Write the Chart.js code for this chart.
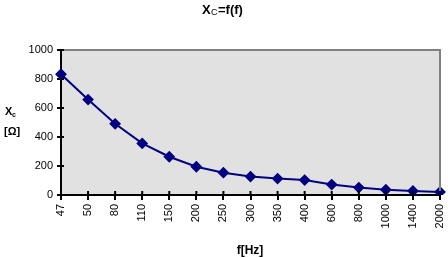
<!DOCTYPE html>
<html>
<head>
<meta charset="utf-8">
<script src="https://cdn.jsdelivr.net/npm/chart.js@4/dist/chart.umd.min.js"></script>
<style>
  html, body { margin: 0; padding: 0; background: #fff; }
  #wrap { width: 448px; height: 258px; }
</style>
</head>
<body>
<div id="wrap"><canvas id="chart" width="448" height="258"></canvas></div>
<script>
// frequencies (category labels) and measured reactance
const frequencies = ['47', '50', '80', '110', '150', '200', '250', '300', '350', '400', '600', '800', '1000', '1400', '2000'];
const reactance = [833, 658, 491, 356, 264, 195, 154, 127, 113, 103, 72, 51, 36, 28, 21];
const yTicks = [0, 200, 400, 600, 800, 1000];

const FONT = '"Liberation Sans", Arial, sans-serif';

// grey plot area + top/right frame, titles with subscripts
const decor = {
    id: 'decor',
    beforeDraw(chart) {
        const { ctx, chartArea: a } = chart;
        ctx.save();
        ctx.fillStyle = '#e1e1e1';
        ctx.fillRect(a.left, a.top, a.right - a.left, a.bottom - a.top);
        ctx.restore();
    },
    afterDraw(chart) {
        const { ctx, chartArea: a } = chart;
        ctx.save();
        ctx.strokeStyle = '#808080';
        ctx.lineWidth = 2;
        ctx.beginPath();
        ctx.moveTo(a.left, a.top);
        ctx.lineTo(a.right, a.top);
        ctx.lineTo(a.right, a.bottom);
        ctx.stroke();

        ctx.fillStyle = '#000';
        ctx.textBaseline = 'alphabetic';
        // main title
        ctx.font = 'bold 13px ' + FONT;
        ctx.textAlign = 'left';
        ctx.fillText('X', 202, 14);
        ctx.font = '9px ' + FONT;
        ctx.fillText('C', 211, 15);
        ctx.font = 'bold 13px ' + FONT;
        ctx.fillText('=f(f)', 218, 14);

        // y title
        ctx.font = 'bold 11px ' + FONT;
        ctx.fillText('X', 5, 115);
        ctx.font = 'bold 7px ' + FONT;
        ctx.fillText('c', 12, 117);
        ctx.font = 'bold 11px ' + FONT;
        ctx.fillText('[\u03A9]', 4, 135);

        // x title
        ctx.font = 'bold 12px ' + FONT;
        ctx.textAlign = 'center';
        ctx.fillText('f[Hz]', 250, 254);

        // short inner parts of the tick marks
        ctx.strokeStyle = '#000';
        ctx.lineWidth = 2;
        const xs = chart.scales.x, ys = chart.scales.y;
        ctx.beginPath();
        frequencies.forEach((f, i) => {
            const x = xs.getPixelForValue(i);
            ctx.moveTo(x, a.bottom);
            ctx.lineTo(x, a.bottom - 4);
        });
        yTicks.forEach(v => {
            const y = ys.getPixelForValue(v);
            ctx.moveTo(a.left, y);
            ctx.lineTo(a.left + 3, y);
        });
        ctx.stroke();
        ctx.restore();
    }
};

new Chart(document.getElementById('chart'), {
    type: 'line',
    data: {
        labels: frequencies,
        datasets: [{
            data: reactance,
            borderColor: '#000080',
            backgroundColor: '#000080',
            borderWidth: 2,
            pointStyle: 'rectRot',
            pointRadius: 4.5,
            pointHoverRadius: 4.5,
            tension: 0
        }]
    },
    options: {
        responsive: false,
        animation: false,
        events: [],
        layout: { padding: { top: 50, right: 0, left: 0, bottom: 0 } },
        plugins: { legend: { display: false }, tooltip: { enabled: false }, title: { display: false } },
        scales: {
            x: {
                offset: false,
                grid: { drawOnChartArea: false, color: '#000', lineWidth: 2, tickLength: 5 },
                border: { color: '#000', width: 2 },
                ticks: {
                    color: '#000',
                    font: { family: FONT, size: 11 },
                    minRotation: 90, maxRotation: 90,
                    padding: 4,
                    autoSkip: false
                },
                afterFit(scale) { scale.height = 63; scale.paddingRight = 8; }
            },
            y: {
                min: 0, max: 1000,
                afterBuildTicks(scale) { scale.ticks = yTicks.map(v => ({ value: v })); },
                grid: { drawOnChartArea: false, color: '#000', lineWidth: 2, tickLength: 4 },
                border: { color: '#000', width: 2 },
                ticks: {
                    color: '#000',
                    font: { family: FONT, size: 11 },
                    padding: 4,
                    callback: v => String(v)
                },
                afterFit(scale) { scale.width = 61; }
            }
        }
    },
    plugins: [decor]
});
</script>
</body>
</html>
